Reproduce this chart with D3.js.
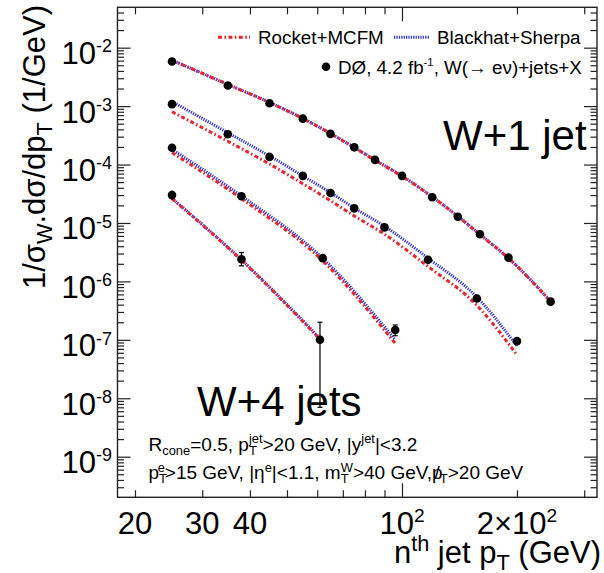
<!DOCTYPE html>
<html>
<head>
<meta charset="utf-8">
<script src="https://cdn.jsdelivr.net/npm/d3@7"></script>
<style>
  body { margin: 0; background: #fff; }
  svg { display: block; font-family: "Liberation Sans", Arial, Helvetica, sans-serif; }
  text { white-space: pre; fill: #000; }
</style>
</head>
<body>
<div class="chart"></div>
<script>
const WIDTH = 604;
const HEIGHT = 573;

// bin centres (GeV) and measured / predicted 1/sigma dsigma/dpT, one set per jet multiplicity
const ptW1 = [25, 35, 45, 55, 65, 75, 85, 100, 120, 140, 160, 190, 245];
const dataW1 = [5.8e-3, 2.25e-3, 1.12e-3, 6.1e-4, 3.35e-4, 1.97e-4, 1.2e-4, 6.4e-5, 2.75e-5, 1.28e-5, 6.4e-6, 2.55e-6, 4.5e-7];
const rocketW1 = [6.1e-3, 2.35e-3, 1.15e-3, 6.1e-4, 3.4e-4, 1.95e-4, 1.18e-4, 6.3e-5, 2.8e-5, 1.3e-5, 6.3e-6, 2.5e-6, 4.5e-7];
const blackhatW1 = [6.1e-3, 2.35e-3, 1.16e-3, 6.2e-4, 3.4e-4, 1.96e-4, 1.2e-4, 6.4e-5, 2.8e-5, 1.3e-5, 6.4e-6, 2.5e-6, 4.6e-7];
const errUpW1 = [0.03, 0.03, 0.03, 0.03, 0.04, 0.04, 0.04, 0.05, 0.05, 0.06, 0.06, 0.07, 0.1];
const errDnW1 = [0.03, 0.03, 0.03, 0.03, 0.04, 0.04, 0.04, 0.05, 0.05, 0.06, 0.06, 0.07, 0.1];

const ptW2 = [25, 35, 45, 55, 65, 75, 90, 117, 157, 200];
const dataW2 = [1.08e-3, 3.3e-4, 1.35e-4, 6.4e-5, 3.25e-5, 1.78e-5, 8.4e-6, 2.35e-6, 5.1e-7, 9.5e-8];
const rocketW2 = [8.0e-4, 2.5e-4, 1.02e-4, 4.7e-5, 2.4e-5, 1.32e-5, 6.4e-6, 1.8e-6, 3.9e-7, 5.5e-8];
const blackhatW2 = [1.2e-3, 3.5e-4, 1.4e-4, 6.4e-5, 3.3e-5, 1.8e-5, 8.8e-6, 2.5e-6, 5.4e-7, 7.8e-8];
const errUpW2 = [0.04, 0.04, 0.05, 0.05, 0.05, 0.06, 0.06, 0.08, 0.1, 0.18];
const errDnW2 = [0.04, 0.04, 0.05, 0.05, 0.05, 0.06, 0.06, 0.08, 0.1, 0.16];

const ptW3 = [25, 38, 62, 96];
const dataW3 = [1.94e-4, 2.86e-5, 2.5e-6, 1.47e-7];
const rocketW3 = [1.6e-4, 2.6e-5, 2.25e-6, 8.7e-8];
const blackhatW3 = [1.82e-4, 2.9e-5, 2.5e-6, 1.0e-7];
const errUpW3 = [0.06, 0.08, 0.12, 0.22];
const errDnW3 = [0.06, 0.08, 0.12, 0.2];

const ptW4 = [25, 38, 61];
const dataW4 = [3.0e-5, 2.4e-6, 1.0e-7];
const rocketW4 = [2.6e-5, 2.3e-6, 1.02e-7];
const blackhatW4 = [2.65e-5, 2.35e-6, 1.06e-7];
const errUpW4 = [0.2, 0.3, 1.0];
const errDnW4 = [0.17, 0.23, 0.93];

const xMinorTicks = [20, 30, 40, 50, 60, 70, 80, 90, 200, 300];
const xMajorTicks = [100];
const xLabels = [
  { v: 20, parts: [{ t: "20" }] },
  { v: 30, parts: [{ t: "30" }] },
  { v: 40, parts: [{ t: "40" }] },
  { v: 100, parts: [{ t: "10" }, { sup: "2" }] },
  { v: 200, parts: [{ t: "2\u00d710" }, { sup: "2" }] },
];
const yExponents = [-2, -3, -4, -5, -6, -7, -8, -9];

const series = [
  { pt: ptW1, data: dataW1, rocket: rocketW1, blackhat: blackhatW1, up: errUpW1, dn: errDnW1 },
  { pt: ptW2, data: dataW2, rocket: rocketW2, blackhat: blackhatW2, up: errUpW2, dn: errDnW2 },
  { pt: ptW3, data: dataW3, rocket: rocketW3, blackhat: blackhatW3, up: errUpW3, dn: errDnW3 },
  { pt: ptW4, data: dataW4, rocket: rocketW4, blackhat: blackhatW4, up: errUpW4, dn: errDnW4 },
];

const RED = "#e3262f";
const BLUE = "#3a3ad2";
const FONT = 31;

const frame = { left: 117.5, right: 597, top: 7.3, bottom: 497.3 };

const x = d3.scaleLog().domain([18, 324]).range([frame.left, frame.right]);
const y = d3.scaleLog().domain([Math.pow(10, -9.695), Math.pow(10, -1.309)]).range([frame.bottom, frame.top]);

const svg = d3.select(".chart").append("svg").attr("width", WIDTH).attr("height", HEIGHT);

// text with sub/superscripts; parts = [{t}, {sub}, {sup}, {sub, sup}, {t, slash}]
const richText = (parent, px, py, parts, size, anchor, ratio = 0.7) => {
  const text = parent.append("text")
    .attr("x", px).attr("y", py)
    .attr("font-size", size)
    .attr("text-anchor", anchor || "start");
  let shift = 0;
  const small = size * ratio;
  const subDy = size * 0.22;
  const supDy = -size * 0.38;
  parts.forEach((p) => {
    if (p.t !== undefined) {
      const s = text.append("tspan").attr("dy", -shift).text(p.t);
      shift = 0;
      if (p.slash) {
        const w = s.node().getComputedTextLength();
        const ch = p.t.slice(-1);
        text.append("tspan").attr("dx", -w * 0.5 - size * 0.14).text("/");
        text.append("tspan").attr("dx", -size * 0.14).text("");
      }
    } else {
      let w1 = 0;
      if (p.sub !== undefined) {
        const s = text.append("tspan").attr("font-size", small).attr("dy", subDy - shift).text(p.sub);
        shift = subDy;
        w1 = s.node().getComputedTextLength();
      }
      if (p.sup !== undefined) {
        const s = text.append("tspan").attr("font-size", small).attr("dy", supDy - shift).text(p.sup);
        if (p.sub !== undefined) s.attr("dx", -w1);
        shift = supDy;
        const w2 = s.node().getComputedTextLength();
        if (p.sub !== undefined && w1 > w2) s.attr("dx", -w1).attr("dx", -w1);
        if (p.sub !== undefined && w1 > w2) text.append("tspan").attr("dx", w1 - w2).text("");
      }
    }
  });
  return text;
};

// frame
svg.append("rect")
  .attr("x", frame.left).attr("y", frame.top)
  .attr("width", frame.right - frame.left).attr("height", frame.bottom - frame.top)
  .attr("fill", "none").attr("stroke", "#222").attr("stroke-width", 1.4);

// y ticks: decades plus 2..9 minors inside the domain
const yDomain = y.domain();
const yMinor = [];
for (let e = -10; e <= -1; e++) {
  for (let k = 2; k <= 9; k++) {
    const v = k * Math.pow(10, e);
    if (v > yDomain[0] && v < yDomain[1]) yMinor.push(v);
  }
}
const yMajor = yExponents.map((e) => Math.pow(10, e));

const tickAxis = (axis, values, size, tx) => {
  const g = svg.append("g")
    .attr("transform", tx)
    .call(axis.tickValues(values).tickSize(size).tickFormat(""));
  g.select(".domain").remove();
  g.selectAll(".tick line").attr("stroke", "#222").attr("stroke-width", 1.2);
  return g;
};

tickAxis(d3.axisLeft(y), yMinor, -6.5, `translate(${frame.left},0)`);
tickAxis(d3.axisLeft(y), yMajor, -13, `translate(${frame.left},0)`);
tickAxis(d3.axisRight(y), yMinor, -6.5, `translate(${frame.right},0)`);
tickAxis(d3.axisRight(y), yMajor, -13, `translate(${frame.right},0)`);
tickAxis(d3.axisBottom(x), xMinorTicks, -7, `translate(0,${frame.bottom})`);
tickAxis(d3.axisBottom(x), xMajorTicks, -14, `translate(0,${frame.bottom})`);
tickAxis(d3.axisTop(x), xMinorTicks, -7, `translate(0,${frame.top})`);
tickAxis(d3.axisTop(x), xMajorTicks, -14, `translate(0,${frame.top})`);

// y tick labels
yExponents.forEach((e) => {
  richText(svg, 112, y(Math.pow(10, e)) + 16.5, [{ t: "10" }, { sup: String(e) }], FONT, "end", 0.58);
});

// x tick labels
xLabels.forEach((d) => {
  richText(svg, x(d.v), 534, d.parts, FONT, "middle", 0.62);
});

// axis titles
richText(svg, 601, 563, [{ t: "n" }, { sup: "th" }, { t: " jet p" }, { sub: "T" }, { t: " (GeV)" }], FONT, "end");

const yTitle = svg.append("g").attr("transform", "translate(45,5) rotate(-90)");
richText(yTitle, 0, 0, [{ t: "1/\u03c3" }, { sub: "W" }, { t: ".d\u03c3/dp" }, { sub: "T" }, { t: " (1/GeV)" }], FONT, "end");

// theory curves
const line = d3.line()
  .x((d) => x(d[0]))
  .y((d) => y(d[1]))
  .curve(d3.curveMonotoneX);

const curves = svg.append("g").attr("fill", "none");
series.forEach((s) => {
  curves.append("path")
    .attr("d", line(s.pt.map((p, i) => [p, s.blackhat[i]])))
    .attr("stroke", BLUE).attr("stroke-width", 3)
    .attr("stroke-dasharray", "1.3,1.1");
  curves.append("path")
    .attr("d", line(s.pt.map((p, i) => [p, s.rocket[i]])))
    .attr("stroke", RED).attr("stroke-width", 3)
    .attr("stroke-dasharray", "4,2.4,1.6,2.4");
});

// data points with error bars
const points = svg.append("g");
series.forEach((s) => {
  const rows = s.pt.map((p, i) => ({ p, v: s.data[i], hi: s.data[i] * (1 + s.up[i]), lo: s.data[i] * (1 - s.dn[i]) }));
  points.selectAll(null)
    .data(rows)
    .join("line")
    .attr("x1", (d) => x(d.p)).attr("x2", (d) => x(d.p))
    .attr("y1", (d) => y(d.hi)).attr("y2", (d) => y(d.lo))
    .attr("stroke", "#111").attr("stroke-width", 1.3);
  const capped = rows.filter((d) => y(d.lo) - y(d.hi) > 10);
  ["hi", "lo"].forEach((k) => {
    points.selectAll(null)
      .data(capped)
      .join("line")
      .attr("x1", (d) => x(d.p) - 2.5).attr("x2", (d) => x(d.p) + 2.5)
      .attr("y1", (d) => y(d[k])).attr("y2", (d) => y(d[k]))
      .attr("stroke", "#111").attr("stroke-width", 1.3);
  });
  points.selectAll(null)
    .data(rows)
    .join("circle")
    .attr("cx", (d) => x(d.p))
    .attr("cy", (d) => y(d.v))
    .attr("r", 4.3)
    .attr("fill", "#000");
});

// legend
const legend = svg.append("g");
legend.append("line").attr("x1", 218).attr("x2", 250).attr("y1", 37.3).attr("y2", 37.3)
  .attr("stroke", RED).attr("stroke-width", 3).attr("stroke-dasharray", "4,2.4,1.6,2.4");
richText(legend, 258, 43.5, [{ t: "Rocket+MCFM" }], 18.8, "start");
legend.append("line").attr("x1", 394).attr("x2", 429).attr("y1", 37.3).attr("y2", 37.3)
  .attr("stroke", BLUE).attr("stroke-width", 3).attr("stroke-dasharray", "1.3,1.1");
richText(legend, 437, 43.5, [{ t: "Blackhat+Sherpa" }], 18.8, "start");
legend.append("circle").attr("cx", 326).attr("cy", 66.7).attr("r", 4.3).attr("fill", "#000");
richText(legend, 338, 73.5, [{ t: "D\u00d8, 4.2 fb" }, { sup: "-1" }, { t: ", W(\u2192 e\u03bd)+jets+X" }], 18.8, "start", 0.6);

// multiplicity labels
richText(svg, 443, 150, [{ t: "W+1 jet" }], 42, "start");
richText(svg, 197, 416, [{ t: "W+4 jets" }], 42, "start");

// selection cuts
richText(svg, 148.5, 450.5, [
  { t: "R" }, { sub: "cone" }, { t: "=0.5, p" }, { sub: "T", sup: "jet" },
  { t: ">20 GeV, |y" }, { sup: "jet" }, { t: "|<3.2" },
], 19, "start", 0.68);
richText(svg, 148.5, 479, [
  { t: "p" }, { sub: "T", sup: "e" }, { t: ">15 GeV, |\u03b7" }, { sup: "e" }, { t: "|<1.1, m" },
  { sub: "T", sup: "W" }, { t: ">40 GeV," }, { t: "p", slash: true }, { sub: "T" }, { t: ">20 GeV" },
], 19, "start", 0.68);
</script>
</body>
</html>
